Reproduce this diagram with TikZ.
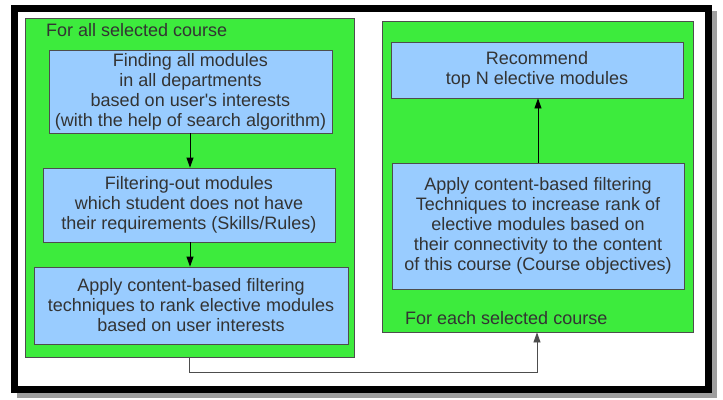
\documentclass[tikz,border=0pt]{standalone}
\usepackage{fontspec}
\setmainfont{Liberation Sans}[Ligatures=TeXOff]
\usetikzlibrary{arrows.meta}
\definecolor{groupgreen}{HTML}{3DEB3D}
\definecolor{stepblue}{HTML}{99CCFF}
\definecolor{inkgray}{HTML}{333333}
\definecolor{edgegray}{HTML}{4D4D4D}
\begin{document}
\begin{tikzpicture}[x=1pt,y=-1pt,
  group/.style={draw=edgegray, fill=groupgreen, line width=0.8pt, inner sep=0pt},
  stepbox/.style={draw=edgegray, fill=stepblue, line width=0.8pt, align=center,
    text=inkgray, font=\fontsize{18}{20}\selectfont, inner sep=0pt},
  grouplabel/.style={text=inkgray, font=\fontsize{18}{20}\selectfont, anchor=west, inner sep=0pt},
  flow/.style={draw=black, line width=0.8pt, -{Triangle[length=10pt,width=7pt]}},
  link/.style={draw=edgegray, line width=0.8pt, -{Triangle[length=10pt,width=7pt]}}]
\useasboundingbox (0,0) rectangle (723,399);
% page frame with drop shadow
\fill[gray!75] (17,11) rectangle (717,398);
\fill[white] (11,5) rectangle (712,393);
\draw[black, line width=7pt] (14.5,8.5) rectangle (708.5,389.5);

% left group: for all selected course
\node[group, minimum width=329pt, minimum height=339pt] (L) at (189.5,187.5) {};
\node[grouplabel] (Ltitle) at (46,30) {For all selected course};
\node[stepbox, minimum width=283pt, minimum height=83pt] (s1) at (190.5,91.5)
  {Finding all modules\\in all departments\\based on user's interests\\(with the help of search algorithm)};
\node[stepbox, minimum width=292pt, minimum height=74pt] (s2) at (189,205)
  {Filtering-out modules\\which student does not have\\their requirements (Skills/Rules)};
\node[stepbox, minimum width=314pt, minimum height=77pt] (s3) at (191,305.5)
  {Apply content-based filtering\\techniques to rank elective modules\\based on user interests};

% right group: for each selected course
\node[group, minimum width=311pt, minimum height=311pt] (R) at (537.5,176.5) {};
\node[grouplabel] (Rtitle) at (405,318) {For each selected course};
\node[stepbox, minimum width=292pt, minimum height=56pt] (r1) at (537,70)
  {Recommend\\top N elective modules};
\node[stepbox, minimum width=292pt, minimum height=126pt] (r2) at (538,226)
  {Apply content-based filtering\\Techniques to increase rank of\\elective modules based on\\their connectivity to the content\\of this course (Course objectives)};

% connectors
\draw[flow] (s1.south -| 190,0) -- (190,0 |- s2.north);
\draw[flow] (s2.south -| 190,0) -- (190,0 |- s3.north);
\draw[flow] (r2.north -| 538,0) -- (538,0 |- r1.south);
\coordinate (bend) at (189,372);
\draw[link] (L.south -| bend) -- (bend) -| (R.south -| 537,0);
\end{tikzpicture}
\end{document}
